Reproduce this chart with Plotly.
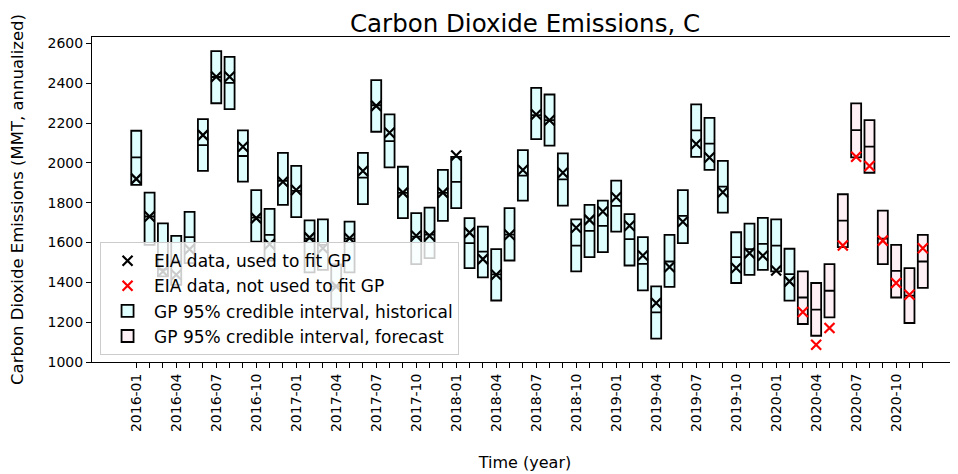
import pandas as pd
import plotly.graph_objects as go

# ---- data ----
months = [p.strftime("%Y-%m") for p in pd.period_range("2016-01", periods=60, freq="M")]

upper = [2162, 1851, 1697, 1634, 1754, 2220, 2562, 2533, 2164, 1864,
         1769, 2051, 1985, 1712, 1717, 1490, 1705, 2051, 2416, 2244,
         1981, 1748, 1776, 1965, 2031, 1723, 1680, 1567, 1773, 2065,
         2377, 2344, 2048, 1717, 1789, 1811, 1911, 1743, 1627, 1380,
         1639, 1864, 2294, 2227, 2011, 1652, 1695, 1724, 1717, 1569,
         1455, 1397, 1492, 1843, 2299, 2215, 1761, 1589, 1472, 1639]
lower = [1890, 1589, 1430, 1388, 1497, 1960, 2300, 2271, 1906, 1605,
         1510, 1789, 1728, 1450, 1463, 1271, 1450, 1793, 2157, 1978,
         1723, 1492, 1522, 1709, 1773, 1472, 1425, 1309, 1510, 1811,
         2120, 2087, 1786, 1455, 1527, 1552, 1655, 1485, 1360, 1117,
         1377, 1597, 2031, 1965, 1751, 1397, 1438, 1463, 1455, 1308,
         1191, 1132, 1224, 1577, 2028, 1951, 1492, 1324, 1196, 1372]
median = [2028, 1731, 1465, 1505, 1627, 2090, 2432, 2402, 2035, 1725,
          1639, 1910, 1860, 1620, 1589, 1380, 1620, 1926, 2290, 2110,
          1850, 1630, 1640, 1850, 1905, 1597, 1555, 1440, 1640, 1936,
          2240, 2215, 1918, 1585, 1659, 1684, 1784, 1617, 1493, 1249,
          1505, 1734, 2164, 2097, 1881, 1527, 1567, 1594, 1585, 1442,
          1324, 1263, 1358, 1710, 2165, 2082, 1620, 1458, 1334, 1505]
observed = [1920, 1731, 1455, 1438, 1567, 2140, 2433, 2433, 2082, 1723,
            1592, 1906, 1864, 1625, 1572, 1380, 1622, 1960, 2287, 2152,
            1851, 1634, 1634, 1851, 2038, 1650, 1517, 1438, 1639, 1965,
            2244, 2215, 1951, 1675, 1714, 1756, 1828, 1685, 1535, 1296,
            1477, 1705, 2095, 2028, 1853, 1472, 1547, 1534, 1460, 1405,
            1251, 1087, 1171, 1585, 2031, 1985, 1610, 1397, 1338, 1572]
y_ticks = [1000, 1200, 1400, 1600, 1800, 2000, 2200, 2400, 2600]
n_fit = 50  # months used to fit the GP (2016-01 .. 2020-02)

FONT = "DejaVu Sans"
idx = list(range(len(months)))
hist = idx[:n_fit]
fcst = idx[n_fit:]


def box_trace(ix, fill, name, rank):
    return go.Box(
        x=ix,
        q1=[lower[i] for i in ix],
        q3=[upper[i] for i in ix],
        median=[median[i] for i in ix],
        lowerfence=[lower[i] for i in ix],
        upperfence=[upper[i] for i in ix],
        width=0.75,
        whiskerwidth=0,
        fillcolor=fill,
        line=dict(color="black", width=1.8),
        name=name,
        legendrank=rank,
        legendgroup=name,
        boxpoints=False,
        hoverinfo="skip",
    )


fig = go.Figure()
fig.add_trace(box_trace(hist, "#E0FFFF", "GP 95% credible interval, historical", 3))
fig.add_trace(box_trace(fcst, "#FFF0F5", "GP 95% credible interval, forecast", 4))
fig.add_trace(go.Scatter(
    x=hist, y=[observed[i] for i in hist], mode="markers",
    marker=dict(symbol="x-thin", size=10, line=dict(color="black", width=2.2)),
    name="EIA data, used to fit GP", legendrank=1, legendgroup="a"))
fig.add_trace(go.Scatter(
    x=fcst, y=[observed[i] for i in fcst], mode="markers",
    marker=dict(symbol="x-thin", size=10, line=dict(color="red", width=2.2)),
    name="EIA data, not used to fit GP", legendrank=2, legendgroup="b"))

# the page body adds an 8 px offset; margins compensate for it
fig.update_layout(
    width=958, height=474,
    margin=dict(l=84, r=8, t=29, b=120),
    paper_bgcolor="white", plot_bgcolor="white",
    font=dict(family=FONT, size=14, color="black"),
    boxmode="overlay",
    title=dict(text="Carbon Dioxide Emissions, C", x=0.5397, xanchor="center",
               y=0.968, yanchor="middle", font=dict(size=24.5)),
    showlegend=True,
    legend=dict(x=0.0093, y=0.021, xanchor="left", yanchor="bottom",
                bgcolor="rgba(255,255,255,0.8)", bordercolor="#cccccc", borderwidth=1,
                font=dict(size=17), traceorder="grouped", tracegroupgap=0,
                itemwidth=43),
)
fig.update_xaxes(
    range=[-3.32, 61.64], automargin=False,
    tickvals=idx,
    ticktext=[m if i % 3 == 0 else "" for i, m in enumerate(months)],
    tickangle=-90, ticks="outside", ticklen=5, tickwidth=1, tickcolor="black",
    tickfont=dict(size=14),
    showline=True, linecolor="black", linewidth=1, mirror=True,
    showgrid=False, zeroline=False,
    title=dict(text="Time (year)", standoff=25, font=dict(size=16)),
)
fig.update_yaxes(
    range=[1000, 2633], automargin=False,
    tickvals=y_ticks,
    ticks="outside", ticklen=5, tickwidth=1, tickcolor="black",
    tickfont=dict(size=14),
    showline=True, linecolor="black", linewidth=1,
    showgrid=False, zeroline=False,
    title=dict(text="Carbon Dioxide Emissions (MMT, annualized)", standoff=20,
               font=dict(size=16.5)),
)

fig.write_html("out.html")
